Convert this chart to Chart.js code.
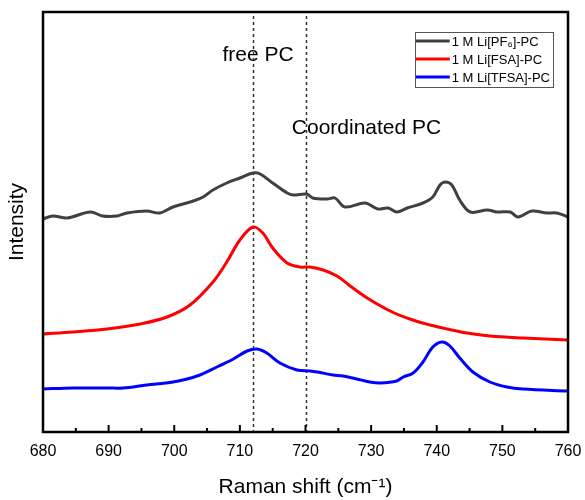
<!DOCTYPE html>
<html>
<head>
<meta charset="utf-8">
<title>Raman spectra – Li salts in PC</title>
<script src="https://cdn.jsdelivr.net/npm/chart.js@4.4.0/dist/chart.umd.min.js"></script>
<style>
  html, body { margin: 0; padding: 0; background: #fff; }
  #chart { display: block; }
</style>
</head>
<body>
<canvas id="chart" width="585" height="500"></canvas>
<script>
// Raman shift (cm-1) and intensity (a.u., spectra offset vertically)
const shiftPF6 = [680.0, 681.5, 683.7, 687.2, 689.1, 691.3, 692.8, 695.8, 697.8, 699.8,
                  702.9, 704.4, 705.9, 708.0, 710.0, 712.0, 713.1, 715.0, 717.2, 718.1,
                  720.2, 721.1, 723.3, 724.5, 726.0, 729.1, 731.0, 732.6, 733.9, 735.5,
                  737.9, 739.4, 740.5, 741.3, 742.3, 743.5, 745.1, 747.7, 749.2, 751.2,
                  752.4, 754.5, 756.8, 758.3, 760.0];
const intensityPF6 = [213, 216, 214, 220, 216, 216, 219, 221, 219, 225,
                      231, 235, 242, 249, 254, 259, 258, 249, 239, 237,
                      238, 234, 233, 234, 225, 229, 223, 224, 220, 224,
                      229, 235, 247, 250, 247, 232, 220, 222, 220, 220,
                      215, 221, 219, 219, 215];

const shiftFSA = [680.0, 684.6, 689.8, 694.8, 698.9, 702.4, 705.9, 708.0, 710.0, 712.0,
                  713.5, 715.0, 717.2, 719.2, 720.7, 722.7, 724.8, 726.8, 729.4, 732.9,
                  735.9, 739.0, 741.6, 744.6, 748.1, 753.1, 760.0];
const intensityFSA = [98, 100, 103, 108, 115, 127, 150, 170, 192, 205,
                      199, 184, 169, 165, 165, 162, 156, 146, 134, 121,
                      113, 107, 103, 99, 96, 94, 92];

const shiftTFSA = [680.0, 684.6, 689.8, 692.2, 695.8, 699.8, 703.5, 706.5, 709.0, 711.1,
                   712.6, 714.1, 716.1, 718.7, 720.7, 721.8, 724.2, 725.7, 727.8, 729.8,
                   731.4, 733.9, 734.9, 736.4, 737.9, 739.4, 740.8, 742.0, 743.5, 745.5,
                   748.1, 750.7, 753.1, 760.0];
const intensityTFSA = [43, 44, 44, 44, 47, 50, 56, 65, 73, 81,
                       83, 79, 69, 62, 61, 60, 57, 56, 53, 50,
                       49, 51, 55, 59, 70, 85, 90, 86, 74, 60,
                       50, 45, 43, 41];

const seriesLabels = ['1 M Li[PF\u2086]-PC', '1 M Li[FSA]-PC', '1 M Li[TFSA]-PC'];
const seriesColors = ['#404040', '#ff0000', '#0000ff'];

// band positions marked with dotted lines
const bandShifts = [712, 720];
const bandNames = ['free PC', 'Coordinated PC'];

const xMin = 680, xMax = 760, xStep = 10;
const yMin = 0, yMax = 420;

function toPoints(xs, ys) {
    return xs.map((x, i) => ({ x: x, y: ys[i] }));
}

const FONT = "'Liberation Sans', Arial, sans-serif";

// frame, inward ticks, dotted band lines, band names and legend box
const decorations = {
    id: 'decorations',
    beforeDatasetsDraw(chart) {
        const { ctx, chartArea, scales } = chart;
        ctx.save();
        ctx.strokeStyle = '#333';
        ctx.lineWidth = 1.5;
        ctx.setLineDash([3, 3]);
        bandShifts.forEach(v => {
            const x = Math.round(scales.x.getPixelForValue(v)) + 0.5;
            ctx.beginPath();
            ctx.moveTo(x, chartArea.top + 4);
            ctx.lineTo(x, chartArea.bottom);
            ctx.stroke();
        });
        ctx.restore();
    },
    afterDraw(chart) {
        const { ctx, chartArea, scales } = chart;
        const xs = scales.x, ys = scales.y;
        ctx.save();

        // plot frame
        ctx.strokeStyle = '#000';
        ctx.lineWidth = 2.5;
        ctx.strokeRect(chartArea.left, chartArea.top,
                       chartArea.right - chartArea.left, chartArea.bottom - chartArea.top);

        // major + minor ticks pointing inward
        ctx.lineWidth = 2;
        xs.ticks.forEach(t => {
            const x = xs.getPixelForValue(t.value);
            ctx.beginPath();
            ctx.moveTo(x, chartArea.bottom);
            ctx.lineTo(x, chartArea.bottom - 7);
            ctx.stroke();
            const half = t.value + xStep / 2;
            if (half < xMax) {
                const xm = xs.getPixelForValue(half);
                ctx.beginPath();
                ctx.moveTo(xm, chartArea.bottom);
                ctx.lineTo(xm, chartArea.bottom - 4);
                ctx.stroke();
            }
        });

        // band names
        ctx.fillStyle = '#000';
        ctx.font = '21px ' + FONT;
        ctx.textAlign = 'center';
        ctx.textBaseline = 'middle';
        ctx.fillText(bandNames[0], xs.getPixelForValue(bandShifts[0]) + 5, ys.getPixelForValue(377));
        ctx.fillText(bandNames[1], xs.getPixelForValue(bandShifts[1]) + 61, ys.getPixelForValue(304));

        // legend
        ctx.font = '13px ' + FONT;
        ctx.textAlign = 'left';
        const items = chart.data.datasets;
        const textW = Math.max(...items.map(d => ctx.measureText(d.label).width));
        const lineLen = 34, gap = 3, rowH = 18;
        const boxW = lineLen + gap + textW + 3;
        const boxH = rowH * items.length + 1;
        const boxX = chartArea.right - 15 - boxW;
        const boxY = chartArea.top + 20;
        ctx.strokeStyle = '#555';
        ctx.lineWidth = 1;
        ctx.strokeRect(Math.round(boxX) + 0.5, Math.round(boxY) + 0.5, Math.round(boxW), Math.round(boxH));
        items.forEach((d, i) => {
            const y = boxY + 9 + i * rowH;
            ctx.strokeStyle = d.borderColor;
            ctx.lineWidth = 3;
            ctx.beginPath();
            ctx.moveTo(boxX + 1, y);
            ctx.lineTo(boxX + 1 + lineLen, y);
            ctx.stroke();
            ctx.fillStyle = '#000';
            ctx.fillText(d.label, boxX + lineLen + gap, y + 1);
        });
        ctx.restore();
    }
};

const ctx = document.getElementById('chart').getContext('2d');

new Chart(ctx, {
    type: 'line',
    data: {
        datasets: [
            { label: seriesLabels[0], data: toPoints(shiftPF6, intensityPF6), borderColor: seriesColors[0] },
            { label: seriesLabels[1], data: toPoints(shiftFSA, intensityFSA), borderColor: seriesColors[1] },
            { label: seriesLabels[2], data: toPoints(shiftTFSA, intensityTFSA), borderColor: seriesColors[2] },
        ]
    },
    options: {
        responsive: false,
        animation: false,
        events: [],
        layout: { padding: { top: 12, right: 17, bottom: 0, left: 0 } },
        elements: {
            line: { borderWidth: 3, tension: 0.35, fill: false },
            point: { radius: 0 }
        },
        plugins: {
            legend: { display: false },
            tooltip: { enabled: false }
        },
        scales: {
            x: {
                type: 'linear',
                min: xMin,
                max: xMax,
                grid: { display: false, drawTicks: false },
                border: { display: false },
                ticks: {
                    stepSize: xStep,
                    autoSkip: false,
                    maxRotation: 0,
                    padding: 10,
                    color: '#000',
                    font: { family: FONT, size: 16 }
                },
                title: {
                    display: true,
                    text: 'Raman shift (cm\u207B\u00B9)',
                    color: '#000',
                    font: { family: FONT, size: 21 },
                    padding: { top: 0, bottom: 0 }
                },
                afterFit(scale) {
                    scale.height = 68;
                    // end labels may overhang the frame, as in the original plot
                    scale.paddingLeft = 0;
                    scale.paddingRight = 0;
                }
            },
            y: {
                min: yMin,
                max: yMax,
                grid: { display: false, drawTicks: false },
                border: { display: false },
                ticks: { display: false },
                title: {
                    display: true,
                    text: 'Intensity',
                    color: '#000',
                    font: { family: FONT, size: 21 },
                    padding: { top: 5, bottom: 0 }
                },
                afterFit(scale) { scale.width = 43; }
            }
        }
    },
    plugins: [decorations]
});
</script>
</body>
</html>
